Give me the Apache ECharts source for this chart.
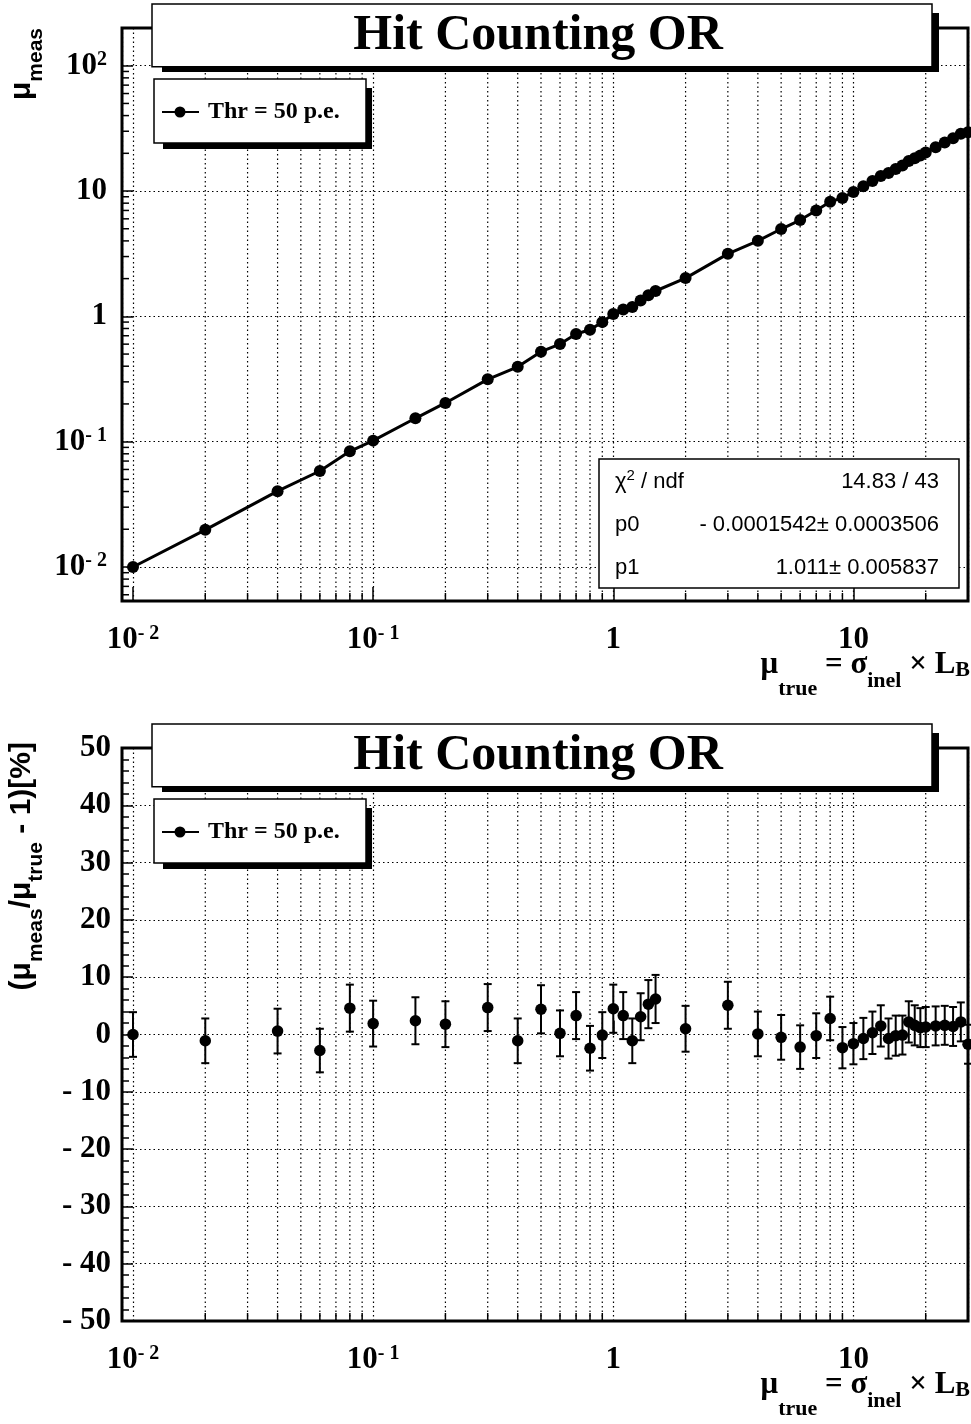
<!DOCTYPE html>
<html><head><meta charset="utf-8">
<script src="https://cdn.jsdelivr.net/npm/echarts@6/dist/echarts.min.js"></script>
<style>html,body{margin:0;padding:0;background:#fff}#c{width:971px;height:1424px}</style>
</head><body><div id="c"></div>
<script>
// ---------------- data ----------------
const muTrue = [0.01,0.02,0.04,0.06,0.08,0.1,0.15,0.2,0.3,0.4,0.5,0.6,0.7,0.8,0.9,1.0,1.1,1.2,1.3,1.4,1.5,2,3,4,5,6,7,8,9,10,11,12,13,14,15,16,17,18,19,20,22,24,26,28,30];
const muMeas = [0.0100,0.01978,0.04024,0.05832,0.08368,0.1019,0.1536,0.2036,0.3141,0.3956,0.522,0.6012,0.7231,0.7808,0.8991,1.045,1.136,1.187,1.340,1.474,1.593,2.020,3.153,4.004,4.975,5.868,6.986,8.224,8.793,9.840,10.92,12.04,13.20,13.90,14.97,15.98,17.37,18.29,19.23,20.26,22.33,24.38,26.36,28.62,29.49];
const residual = [0.0,-1.1,0.6,-2.8,4.6,1.9,2.4,1.8,4.7,-1.1,4.4,0.2,3.3,-2.4,-0.1,4.5,3.3,-1.1,3.1,5.3,6.2,1.0,5.1,0.1,-0.5,-2.2,-0.2,2.8,-2.3,-1.6,-0.7,0.3,1.5,-0.7,-0.2,-0.1,2.2,1.6,1.2,1.3,1.5,1.6,1.4,2.2,-1.7];
const residualErr = [3.9,3.9,3.9,3.8,4.1,4.0,4.1,4.0,4.1,3.9,4.2,4.0,4.1,3.9,4.0,4.2,4.1,3.9,4.1,4.2,4.2,4.0,4.1,3.9,3.9,3.8,3.9,3.8,3.6,3.6,3.6,3.7,3.6,3.5,3.5,3.4,3.6,3.5,3.4,3.5,3.4,3.4,3.4,3.4,3.4];
const xMinorTicks = [0.02,0.03,0.04,0.05,0.06,0.07,0.08,0.09,0.2,0.3,0.4,0.5,0.6,0.7,0.8,0.9,2,3,4,5,6,7,8,9,20];
const yMinorTicksTop = [0.006,0.007,0.008,0.009,0.02,0.03,0.04,0.05,0.06,0.07,0.08,0.09,0.2,0.3,0.4,0.5,0.6,0.7,0.8,0.9,2,3,4,5,6,7,8,9,20,30,40,50,60,70,80,90];
const xRange = [0.009, 30];
const yRangeTop = [0.00535, 200];
const yRangeBottom = [-50, 50];
const yTickStepBottom = 10;
const statLabels = ['χ{sup|2} / ndf', 'p0', 'p1'];
const statValues = ['14.83 / 43', '- 0.0001542± 0.0003506', '1.011± 0.005837'];
const titleText = 'Hit Counting OR';
const legendText = 'Thr = 50 p.e.';
const yTitleTop = '{m|μ}{s|meas}';
const yTitleBottom = '{m|(μ}{s|meas}{m|/μ}{s|true}{m| - 1)[%]}';
const xTitle = '{m|μ}{st|true}{m| = σ}{si|inel}{m| × L}{sb|B}';

// ---------------- helpers ----------------
const serif = 'Liberation Serif', sans = 'Liberation Sans';
const gridDash = [1.5, 3];
function logLabel(v) {
  const e = Math.log10(v), r = Math.round(e);
  if (Math.abs(e - r) > 1e-6) return '';
  if (r === 0) return '1';
  if (r === 1) return '10';
  return '10{sup|' + (r < 0 ? '- ' + (-r) : r) + '}';
}
const supRich = { sup: { fontSize: 20, fontFamily: serif, fontWeight: 'bold', color: '#000', lineHeight: 34, padding: [0, 0, 12, 0] } };
const labelBase = { color: '#000', fontFamily: serif, fontWeight: 'bold', fontSize: 31, lineHeight: 34 };

function xAxisCfg(gi) {
  return { type: 'log', logBase: 10, gridIndex: gi, min: xRange[0], max: xRange[1],
    axisLine: { show: false },
    axisTick: { show: true, inside: true, length: 14, lineStyle: { color: '#000', width: 1.5 } },
    axisLabel: Object.assign({ formatter: logLabel, margin: 22, rich: supRich }, labelBase),
    splitLine: { show: true, lineStyle: { color: '#000', width: 1.2, type: gridDash } } };
}

function minorXRender(params, api) {
  const cs = params.coordSys;
  const x = api.coord([api.value(0), api.value(1)])[0];
  const b = cs.y + cs.height;
  return { type: 'group', children: [
    { type: 'line', shape: { x1: x, y1: cs.y, x2: x, y2: b }, style: { stroke: '#000', lineWidth: 1.2, lineDash: gridDash } },
    { type: 'line', shape: { x1: x, y1: b, x2: x, y2: b - 8 }, style: { stroke: '#000', lineWidth: 1.5 } }
  ] };
}
function minorYRender(params, api) {
  const cs = params.coordSys;
  const y = api.coord([api.value(0), api.value(1)])[1];
  return { type: 'line', shape: { x1: cs.x, y1: y, x2: cs.x + 7, y2: y }, style: { stroke: '#000', lineWidth: 1.5 } };
}
function errRender(params, api) {
  const x = api.value(0), y = api.value(1), e = api.value(2);
  const t = api.coord([x, y + e]), b = api.coord([x, y - e]);
  const cap = 4, st = { stroke: '#000', lineWidth: 2 };
  return { type: 'group', children: [
    { type: 'line', shape: { x1: t[0], y1: t[1], x2: b[0], y2: b[1] }, style: st },
    { type: 'line', shape: { x1: t[0] - cap, y1: t[1], x2: t[0] + cap, y2: t[1] }, style: st },
    { type: 'line', shape: { x1: b[0] - cap, y1: b[1], x2: b[0] + cap, y2: b[1] }, style: st }
  ] };
}

function panelGraphics(dy, withStats) {
  const els = [];
  // title box with shadow
  els.push({ type: 'rect', z: 100, shape: { x: 162, y: 13 + dy, width: 777, height: 59 }, style: { fill: '#000' } });
  els.push({ type: 'rect', z: 101, shape: { x: 152, y: 4 + dy, width: 780, height: 62.7 }, style: { fill: '#fff', stroke: '#000', lineWidth: 1.5 } });
  els.push({ type: 'text', z: 102, x: 538, y: 36 + dy, style: { text: titleText, fill: '#000', font: 'bold 50px "Liberation Serif"', align: 'center', verticalAlign: 'middle' } });
  // legend
  els.push({ type: 'rect', z: 100, shape: { x: 163, y: 88 + dy, width: 209, height: 61 }, style: { fill: '#000' } });
  els.push({ type: 'rect', z: 101, shape: { x: 154, y: 79 + dy, width: 212, height: 64 }, style: { fill: '#fff', stroke: '#000', lineWidth: 1.5 } });
  els.push({ type: 'line', z: 102, shape: { x1: 162, y1: 112 + dy, x2: 199, y2: 112 + dy }, style: { stroke: '#000', lineWidth: 2 } });
  els.push({ type: 'circle', z: 103, shape: { cx: 180, cy: 112 + dy, r: 5.5 }, style: { fill: '#000' } });
  els.push({ type: 'text', z: 102, x: 208, y: 112 + dy, style: { text: legendText, fill: '#000', font: 'bold 24px "Liberation Serif"', align: 'left', verticalAlign: 'middle' } });
  // x title
  els.push({ type: 'text', z: 102, x: 970, y: 664.5 + dy, style: { text: xTitle, align: 'right', verticalAlign: 'middle', rich: {
    m: { fontSize: 31, fontFamily: serif, fontWeight: 'bold', fill: '#000', lineHeight: 76 },
    st: { fontSize: 22, fontFamily: serif, fontWeight: 'bold', fill: '#000', lineHeight: 76, padding: [50, 0, 0, 0] },
    si: { fontSize: 22, fontFamily: serif, fontWeight: 'bold', fill: '#000', lineHeight: 76, padding: [34, 0, 0, 0] },
    sb: { fontSize: 22, fontFamily: serif, fontWeight: 'bold', fill: '#000', lineHeight: 76, padding: [12, 0, 0, 0] }
  } } });
  if (withStats) {
    els.push({ type: 'rect', z: 101, shape: { x: 599, y: 459, width: 360, height: 129 }, style: { fill: '#fff', stroke: '#000', lineWidth: 1.5 } });
    const rowY = [482, 525, 568];
    for (let i = 0; i < statLabels.length; i++) {
      els.push({ type: 'text', z: 102, x: 615, y: rowY[i], style: { text: statLabels[i], align: 'left', verticalAlign: 'middle', fill: '#000', font: '22px "Liberation Sans"',
        rich: { sup: { fontSize: 15, fontFamily: sans, fill: '#000', padding: [0, 0, 12, 0] } } } });
      els.push({ type: 'text', z: 102, x: 939, y: rowY[i], style: { text: statValues[i], align: 'right', verticalAlign: 'middle', fill: '#000', font: '22px "Liberation Sans"' } });
    }
  }
  return els;
}
const yTitleRich = {
  m: { fontSize: 30, fontFamily: sans, fontWeight: 'bold', fill: '#000', lineHeight: 50 },
  s: { fontSize: 21, fontFamily: sans, fontWeight: 'bold', fill: '#000', lineHeight: 50, padding: [29, 0, 0, 0] }
};

const graphics = panelGraphics(0, true).concat(panelGraphics(720, false));
graphics.push({ type: 'text', z: 102, x: 22, y: 28, rotation: Math.PI / 2, style: { text: yTitleTop, align: 'right', verticalAlign: 'middle', rich: yTitleRich } });
graphics.push({ type: 'text', z: 102, x: 22, y: 742, rotation: Math.PI / 2, style: { text: yTitleBottom, align: 'right', verticalAlign: 'middle', rich: yTitleRich } });

const topData = muTrue.map((x, i) => [x, muMeas[i]]);
const resData = muTrue.map((x, i) => [x, residual[i]]);
const errData = muTrue.map((x, i) => [x, residual[i], residualErr[i]]);

const chart = echarts.init(document.getElementById('c'), null, { renderer: 'canvas', width: 971, height: 1424 });
chart.setOption({
  animation: false,
  backgroundColor: '#fff',
  grid: [
    { left: 122, top: 28, width: 846, height: 573, show: true, borderColor: '#000', borderWidth: 3, backgroundColor: 'transparent' },
    { left: 122, top: 748, width: 846, height: 573, show: true, borderColor: '#000', borderWidth: 3, backgroundColor: 'transparent' }
  ],
  xAxis: [xAxisCfg(0), xAxisCfg(1)],
  yAxis: [
    { type: 'log', logBase: 10, gridIndex: 0, min: yRangeTop[0], max: yRangeTop[1],
      axisLine: { show: false },
      axisTick: { show: true, inside: true, length: 11, lineStyle: { color: '#000', width: 1.5 } },
      axisLabel: Object.assign({ formatter: logLabel, margin: 15, rich: supRich }, labelBase),
      splitLine: { show: true, lineStyle: { color: '#000', width: 1.2, type: gridDash } } },
    { type: 'value', gridIndex: 1, min: yRangeBottom[0], max: yRangeBottom[1], interval: yTickStepBottom,
      axisLine: { show: false },
      axisTick: { show: true, inside: true, length: 11, lineStyle: { color: '#000', width: 1.5 } },
      minorTick: { show: true, splitNumber: 5, length: 7, lineStyle: { color: '#000', width: 1.5 } },
      axisLabel: Object.assign({ formatter: v => (v < 0 ? '- ' + (-v) : String(v)), margin: 11 }, labelBase),
      splitLine: { show: true, lineStyle: { color: '#000', width: 1.2, type: gridDash } } }
  ],
  series: [
    { type: 'custom', xAxisIndex: 0, yAxisIndex: 0, silent: true, z: 1, renderItem: minorXRender, data: xMinorTicks.map(v => [v, 1]) },
    { type: 'custom', xAxisIndex: 0, yAxisIndex: 0, silent: true, z: 1, renderItem: minorYRender, data: yMinorTicksTop.map(v => [1, v]) },
    { type: 'line', xAxisIndex: 0, yAxisIndex: 0, data: topData, symbol: 'circle', symbolSize: 12, showAllSymbol: true,
      lineStyle: { color: '#000', width: 3 }, itemStyle: { color: '#000' }, z: 3 },
    { type: 'custom', xAxisIndex: 1, yAxisIndex: 1, silent: true, z: 1, renderItem: minorXRender, data: xMinorTicks.map(v => [v, 0]) },
    { type: 'custom', xAxisIndex: 1, yAxisIndex: 1, silent: true, z: 2, renderItem: errRender, data: errData, encode: { x: 0, y: 1 } },
    { type: 'scatter', xAxisIndex: 1, yAxisIndex: 1, data: resData, symbol: 'circle', symbolSize: 11.5, itemStyle: { color: '#000', opacity: 1 }, z: 3 }
  ],
  graphic: { elements: graphics }
});
</script></body></html>
